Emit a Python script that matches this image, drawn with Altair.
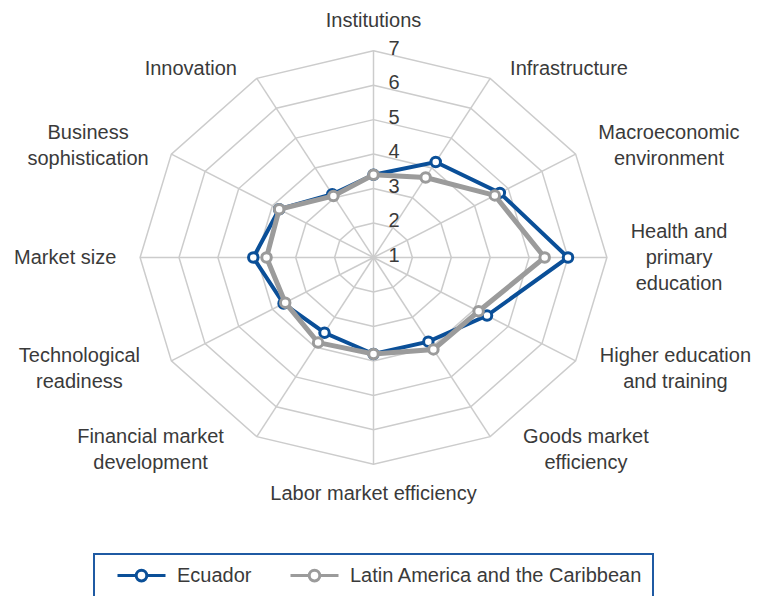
import math
import altair as alt
import pandas as pd

# ---------------- data ----------------
categories = [
    "Institutions", "Infrastructure", "Macroeconomic environment",
    "Health and primary education", "Higher education and training",
    "Goods market efficiency", "Labor market efficiency",
    "Financial market development", "Technological readiness",
    "Market size", "Business sophistication", "Innovation",
]
label_lines = [
    "Institutions", "Infrastructure", "Macroeconomic\nenvironment",
    "Health and\nprimary\neducation", "Higher education\nand training",
    "Goods market\nefficiency", "Labor market efficiency",
    "Financial market\ndevelopment", "Technological\nreadiness",
    "Market size", "Business\nsophistication", "Innovation",
]
ecuador = [3.4, 4.2, 4.75, 6.0, 4.37, 3.82, 3.8, 3.52, 3.67, 4.09, 3.8, 3.12]
lac = [3.4, 3.68, 4.6, 5.4, 4.12, 4.08, 3.8, 3.85, 3.62, 3.75, 3.8, 3.06]
series_names = ["Ecuador", "Latin America and the Caribbean"]
ring_values = [2, 3, 4, 5, 6, 7]
tick_values = [1, 2, 3, 4, 5, 6, 7]
scale_min, scale_max = 1, 7

# ---------------- style ----------------
BLUE = "#0a4f98"
GRAY = "#9b9b9b"
GRID = "#cccccc"
TEXT = "#3a3a3a"
BORDER = "#1f5aa3"
FONT = "Liberation Sans, Arial, sans-serif"
FS = 20
LH = 26

W, H = 744, 588
CX, CY = 365.5, 249.5          # centre of the radar inside the plot area (px)
UX, UY = 38.9, 34.47           # px per scale unit, horizontal / vertical
x_dom = [-CX / UX, (W - CX) / UX]
y_dom = [-(H - CY) / UY, CY / UY]
n = len(categories)
step = 360.0 / n

ARIAL = {' ': 278, 'a': 556, 'b': 556, 'c': 500, 'd': 556, 'e': 556, 'f': 278,
         'g': 556, 'h': 556, 'i': 222, 'j': 222, 'k': 500, 'l': 222, 'm': 833,
         'n': 556, 'o': 556, 'p': 556, 'q': 556, 'r': 333, 's': 500, 't': 278,
         'u': 556, 'v': 500, 'w': 722, 'x': 500, 'y': 500, 'z': 500,
         'B': 667, 'F': 611, 'G': 778, 'H': 722, 'I': 278, 'L': 556, 'M': 833,
         'T': 611}


def text_width(s):
    return sum(ARIAL.get(ch, 556) for ch in s) * FS / 1000.0


# ---------------- tables ----------------
rows = []
for name, vals in zip(series_names, [ecuador, lac]):
    for i in range(n + 1):
        rows.append({"series": name, "idx": i, "value": vals[i % n]})
series_df = pd.DataFrame(rows)

ring_df = pd.DataFrame([{"ring": r, "idx": i} for r in ring_values for i in range(n + 1)])
spoke_df = pd.DataFrame({"idx": list(range(n))})
tick_df = pd.DataFrame({"tick": tick_values})

lab_rows = []
for k, lab in enumerate(label_lines):
    a = math.radians(k * step)
    s, c = math.sin(a), math.cos(a)
    parts = lab.split("\n")
    nl = len(parts)
    if abs(s) < 0.1:
        x, y = 0.0, c * 6.86
    else:
        w = max(text_width(t) for t in parts)
        extra = 1 + 15 * max(0.0, -c)
        half = 6.2 * abs(s) * UX + 15 + extra + w / 2
        limit = (W - CX if s > 0 else CX) - w / 2 - 1
        half = min(half, limit)
        x = math.copysign(half, s) / UX
        y = c * (6.45 if nl > 1 else 6.31)
    y += (nl - 1) * LH / 2 / UY       # centre the block of lines
    lab_rows.append({"label": lab, "lx": x, "ly": y})
label_df = pd.DataFrame(lab_rows)

ANG = f"datum.idx * 2 * PI / {n}"
xs = alt.Scale(domain=x_dom, nice=False, zero=False)
ys = alt.Scale(domain=y_dom, nice=False, zero=False)


def polar(chart, rexpr):
    return chart.transform_calculate(
        r=rexpr
    ).transform_calculate(
        x=f"datum.r * sin({ANG})", y=f"datum.r * cos({ANG})"
    )


rings = polar(alt.Chart(ring_df), f"datum.ring - {scale_min}").mark_line(
    color=GRID, strokeWidth=1.5
).encode(
    x=alt.X("x:Q", scale=xs, axis=None),
    y=alt.Y("y:Q", scale=ys, axis=None),
    detail="ring:N",
    order="idx:Q",
)

spokes = alt.Chart(spoke_df).transform_calculate(
    x0="0", y0="0",
    x2=f"{scale_max - scale_min} * sin({ANG})",
    y2=f"{scale_max - scale_min} * cos({ANG})",
).mark_rule(color=GRID, strokeWidth=1.5).encode(
    x=alt.X("x0:Q", scale=xs, axis=None),
    y=alt.Y("y0:Q", scale=ys, axis=None),
    x2="x2:Q",
    y2="y2:Q",
)

ticks = alt.Chart(tick_df).transform_calculate(
    tx="0", ty=f"datum.tick - {scale_min}"
).mark_text(
    align="left", baseline="middle", dx=15, dy=-2, fontSize=FS, font=FONT, color=TEXT
).encode(
    x=alt.X("tx:Q", scale=xs, axis=None),
    y=alt.Y("ty:Q", scale=ys, axis=None),
    text="tick:N",
)

# legend symbol: a 48px line with an open circle, starting 12px into the slot
SYMBOL = ("M0.2,0H2.07M3.13,0H5.0"
          "M2.07,0A0.53,0.53,0,1,1,3.13,0A0.53,0.53,0,1,1,2.07,0Z")
legend = alt.Legend(
    title=None, orient="none", legendX=86, legendY=546, direction="horizontal",
    symbolType=SYMBOL, symbolSize=400, symbolStrokeWidth=3, symbolFillColor="white",
    labelOffset=50, columnPadding=25, labelFontSize=FS, labelFont=FONT,
    labelColor=TEXT, labelLimit=500, padding=10, strokeColor=BORDER,
)
color = alt.Color("series:N", scale=alt.Scale(domain=series_names, range=[BLUE, GRAY]),
                  legend=legend)


def series_layers(name, col, lw):
    base = polar(alt.Chart(series_df).transform_filter(alt.datum.series == name),
                 f"datum.value - {scale_min}")
    line = base.mark_line(strokeWidth=lw).encode(
        x=alt.X("x:Q", scale=xs, axis=None),
        y=alt.Y("y:Q", scale=ys, axis=None),
        color=color,
        order="idx:Q",
    )
    pts = base.transform_filter(f"datum.idx < {n}").mark_point(
        shape="circle", filled=True, fill="white", stroke=col, strokeWidth=3,
        size=90, opacity=1
    ).encode(
        x=alt.X("x:Q", scale=xs, axis=None),
        y=alt.Y("y:Q", scale=ys, axis=None),
    )
    return [line, pts]


labels = alt.Chart(label_df).mark_text(
    align="center", baseline="middle", fontSize=FS, lineHeight=LH, font=FONT,
    color=TEXT, lineBreak="\n"
).encode(
    x=alt.X("lx:Q", scale=xs, axis=None),
    y=alt.Y("ly:Q", scale=ys, axis=None),
    text="label:N",
)

chart = alt.layer(
    rings, spokes, ticks,
    *series_layers("Ecuador", BLUE, 4),
    *series_layers("Latin America and the Caribbean", GRAY, 5),
    labels,
).properties(
    width=W, height=H, padding=0, autosize=alt.AutoSizeParams(type="none"),
    background="white",
).configure_view(strokeWidth=0).configure_legend(strokeWidth=2)

chart.save("out.html", embed_options={"renderer": "svg", "actions": False})
